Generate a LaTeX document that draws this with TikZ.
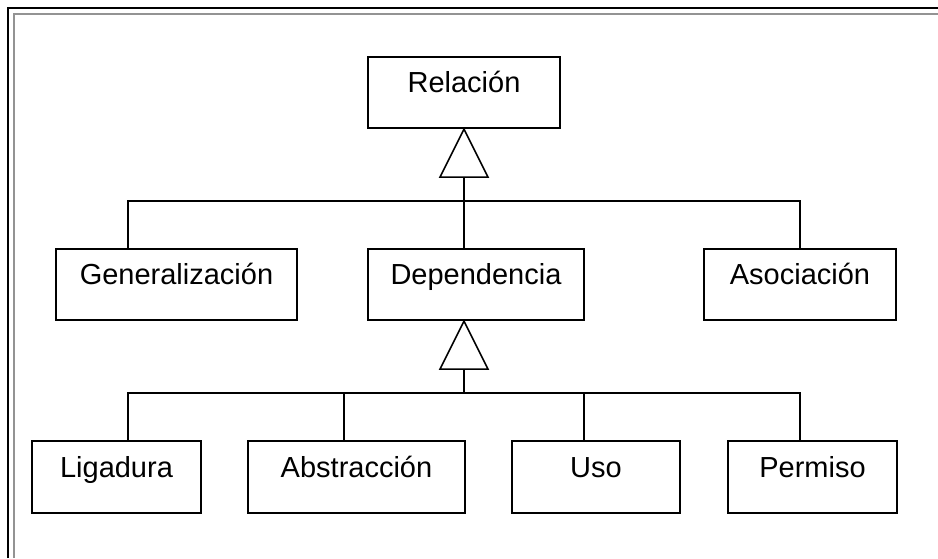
\documentclass[tikz,border=0pt]{standalone}
\usepackage{fontspec}
\setmainfont{Liberation Sans}
\begin{document}
\begin{tikzpicture}[x=1pt,y=-1pt,
  box/.style={draw=black, line width=1.6pt, fill=white, inner sep=0pt,
    text height=0pt, text depth=0pt, minimum height=71.5pt,
    font=\fontsize{29}{34}\selectfont},
  conn/.style={draw=black, line width=1.6pt},
  tri/.style={draw=black, line width=1.6pt, fill=white, line join=miter}]
\useasboundingbox (0,0) rectangle (938,558);
% frame
\draw[black, line width=2pt] (7.5,558) -- (7.5,8) -- (938,8);
\draw[gray!85, line width=2pt] (13.5,558) -- (13.5,14) -- (938,14);
% nodes
\node[box, minimum width=192pt] (rel) at (464,92.5) {Relación};
\node[box, minimum width=241pt] (gen) at (176.5,284.5) {Generalización};
\node[box, minimum width=216pt] (dep) at (476,284.5) {Dependencia};
\node[box, minimum width=192pt] (aso) at (800,284.5) {Asociación};
\node[box, minimum width=169pt] (lig) at (116.5,477) {Ligadura};
\node[box, minimum width=217pt] (abs) at (356.5,477) {Abstracción};
\node[box, minimum width=168pt] (uso) at (596,477) {Uso};
\node[box, minimum width=169pt] (per) at (812.5,477) {Permiso};
% first level
\coordinate (a1) at (rel.south);
\coordinate (t1) at (464,176);
\coordinate (j1) at (464,201);
\draw[conn] (t1) -- (j1);
\draw[conn] ([xshift=-48.5pt]gen.north) |- (aso.north |- j1) -- (aso.north);
\draw[conn] (j1) -- (j1 |- dep.north);
\draw[tri] (a1) -- ++(-24,48) -- ++(48,0) -- cycle;
% second level
\coordinate (a2) at ([xshift=-12pt]dep.south);
\coordinate (t2) at (464,368);
\coordinate (j2) at (464,393);
\draw[conn] (t2) -- (j2);
\draw[conn] ([xshift=11.5pt]lig.north) |- ([xshift=-12.5pt]per.north |- j2) -- ([xshift=-12.5pt]per.north);
\draw[conn] ([xshift=-12.5pt]abs.north) -- ([xshift=-12.5pt]abs.north |- j2);
\draw[conn] ([xshift=-12pt]uso.north) -- ([xshift=-12pt]uso.north |- j2);
\draw[tri] (a2) -- ++(-24,48) -- ++(48,0) -- cycle;
\end{tikzpicture}
\end{document}
